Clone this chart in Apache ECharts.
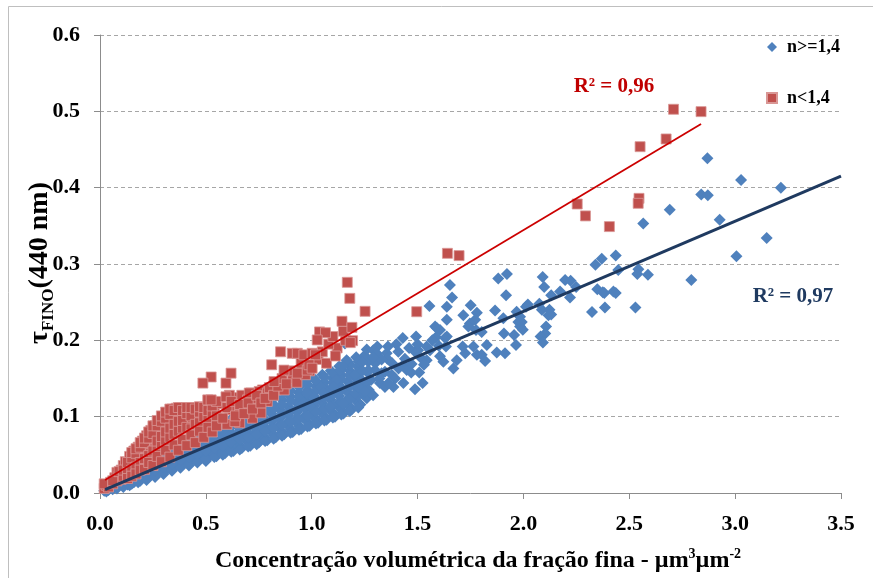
<!DOCTYPE html>
<html>
<head>
<meta charset="utf-8">
<script src="https://cdn.jsdelivr.net/npm/echarts@6/dist/echarts.min.js"></script>
<style>
html,body{margin:0;padding:0;background:#fff;}
#c{width:873px;height:578px;}
</style>
</head>
<body>
<div id="c"></div>
<script>
// ---- data ----
const seriesNames = ['n>=1,4', 'n<1,4'];
const xTicks = [0, 0.5, 1.0, 1.5, 2.0, 2.5, 3.0, 3.5];
const yTicks = [0, 0.1, 0.2, 0.3, 0.4, 0.5, 0.6];

// n>=1,4 (blue diamonds) : [x, y]
const bluePoints = [
[0.02,0.003],[0.03,0.006],[0.04,0.004],[0.05,0.008],[0.03,0.002],[0.06,0.005],
[0.08,0.006],[0.09,0.011],[0.07,0.009],
[0.11,0.008],[0.12,0.014],[0.13,0.011],[0.12,0.019],
[0.15,0.012],[0.16,0.018],[0.17,0.024],[0.16,0.014],
[0.19,0.016],[0.20,0.022],[0.21,0.028],[0.22,0.019],
[0.23,0.021],[0.24,0.027],[0.25,0.034],[0.26,0.024],
[0.27,0.026],[0.28,0.032],[0.29,0.040],[0.30,0.028],[0.30,0.046],
[0.31,0.030],[0.32,0.036],[0.33,0.044],[0.34,0.032],[0.33,0.051],
[0.35,0.034],[0.36,0.040],[0.37,0.048],[0.38,0.037],[0.37,0.056],[0.38,0.062],
[0.39,0.038],[0.40,0.045],[0.41,0.053],[0.42,0.041],[0.41,0.060],[0.42,0.067],
[0.43,0.042],[0.44,0.049],[0.45,0.057],[0.46,0.045],[0.45,0.064],[0.46,0.071],
[0.47,0.047],[0.48,0.053],[0.49,0.061],[0.50,0.042],[0.49,0.069],[0.50,0.076],
[0.51,0.046],[0.52,0.057],[0.53,0.065],[0.54,0.050],[0.53,0.073],[0.54,0.081],
[0.55,0.048],[0.56,0.060],[0.57,0.069],[0.58,0.054],[0.57,0.078],[0.58,0.086],
[0.59,0.052],[0.60,0.064],[0.61,0.073],[0.62,0.058],[0.61,0.082],[0.62,0.091],
[0.63,0.055],[0.64,0.068],[0.65,0.077],[0.66,0.062],[0.65,0.087],[0.66,0.096],
[0.67,0.059],[0.68,0.072],[0.69,0.081],[0.70,0.066],[0.69,0.091],[0.70,0.100],
[0.71,0.062],[0.72,0.075],[0.73,0.085],[0.74,0.070],[0.73,0.095],[0.74,0.105],
[0.75,0.066],[0.76,0.079],[0.77,0.089],[0.78,0.072],[0.77,0.099],[0.78,0.110],
[0.79,0.069],[0.80,0.083],[0.81,0.094],[0.82,0.076],[0.81,0.104],[0.82,0.116],
[0.83,0.073],[0.84,0.087],[0.85,0.098],[0.86,0.080],[0.85,0.109],[0.86,0.122],[0.85,0.130],
[0.87,0.077],[0.88,0.091],[0.89,0.102],[0.90,0.084],[0.89,0.113],[0.90,0.126],[0.89,0.137],
[0.91,0.080],[0.92,0.095],[0.93,0.106],[0.94,0.088],[0.93,0.118],[0.94,0.131],[0.93,0.142],
[0.95,0.084],[0.96,0.099],[0.97,0.110],[0.98,0.093],[0.97,0.122],[0.98,0.135],[0.97,0.146],
[0.99,0.088],[1.00,0.103],[1.01,0.114],[1.02,0.097],[1.01,0.127],[1.02,0.140],[1.01,0.150],
[1.03,0.092],[1.04,0.107],[1.05,0.118],[1.06,0.101],[1.05,0.132],[1.06,0.145],[1.05,0.155],
[1.07,0.096],[1.08,0.111],[1.09,0.122],[1.10,0.105],[1.09,0.136],[1.10,0.150],[1.09,0.160],
[1.11,0.100],[1.12,0.116],[1.13,0.127],[1.14,0.109],[1.13,0.141],[1.14,0.155],[1.13,0.166],
[1.15,0.104],[1.16,0.120],[1.17,0.132],[1.18,0.113],[1.17,0.146],[1.18,0.160],[1.17,0.172],
[1.19,0.110],[1.20,0.125],[1.21,0.138],[1.22,0.118],[1.21,0.150],[1.22,0.165],[1.21,0.178],
[1.23,0.116],[1.24,0.130],[1.25,0.142],[1.26,0.124],[1.25,0.180],[1.26,0.188],
[1.27,0.135],[1.28,0.148],[1.29,0.128],[1.30,0.170],[1.31,0.192],
// fill of the dense band (offset columns)
[0.14,0.010],[0.14,0.017],[0.14,0.022],[0.18,0.014],[0.18,0.020],[0.18,0.027],
[0.22,0.017],[0.22,0.025],[0.22,0.031],[0.26,0.021],[0.26,0.029],[0.26,0.037],[0.26,0.043],
[0.30,0.025],[0.30,0.034],[0.30,0.041],[0.34,0.029],[0.34,0.039],[0.34,0.046],[0.34,0.055],
[0.38,0.033],[0.38,0.043],[0.38,0.051],[0.42,0.036],[0.42,0.047],[0.42,0.056],[0.42,0.064],
[0.46,0.040],[0.46,0.051],[0.46,0.060],[0.46,0.069],[0.46,0.077],
[0.50,0.045],[0.50,0.055],[0.50,0.064],[0.50,0.073],[0.50,0.082],
[0.54,0.047],[0.54,0.059],[0.54,0.069],[0.54,0.078],[0.54,0.087],
[0.58,0.050],[0.58,0.062],[0.58,0.073],[0.58,0.082],[0.58,0.092],
[0.62,0.054],[0.62,0.066],[0.62,0.077],[0.62,0.087],[0.62,0.097],
[0.66,0.057],[0.66,0.070],[0.66,0.081],[0.66,0.092],[0.66,0.102],
[0.70,0.061],[0.70,0.073],[0.70,0.086],[0.70,0.096],[0.70,0.107],
[0.74,0.064],[0.74,0.077],[0.74,0.090],[0.74,0.101],[0.74,0.112],
[0.78,0.068],[0.78,0.081],[0.78,0.094],[0.78,0.106],[0.78,0.118],
[0.82,0.071],[0.82,0.085],[0.82,0.098],[0.82,0.111],[0.82,0.124],
[0.86,0.075],[0.86,0.089],[0.86,0.103],[0.86,0.116],[0.86,0.129],
[0.90,0.079],[0.90,0.093],[0.90,0.108],[0.90,0.121],[0.90,0.134],
[0.94,0.083],[0.94,0.097],[0.94,0.112],[0.94,0.126],[0.94,0.139],
[0.98,0.087],[0.98,0.101],[0.98,0.117],[0.98,0.130],[0.98,0.142],
[1.02,0.091],[1.02,0.106],[1.02,0.121],[1.02,0.134],[1.02,0.147],
[1.06,0.095],[1.06,0.110],[1.06,0.125],[1.06,0.139],[1.06,0.152],
[1.10,0.099],[1.10,0.114],[1.10,0.130],[1.10,0.144],[1.10,0.157],
[1.14,0.103],[1.14,0.119],[1.14,0.135],[1.14,0.149],[1.14,0.162],
[1.18,0.107],[1.18,0.123],[1.18,0.140],[1.18,0.154],[1.18,0.168],
[1.22,0.112],[1.22,0.128],[1.22,0.145],[1.22,0.158],[1.22,0.172],
// x > 1.1
[1.157,0.196],[1.165,0.174],[1.134,0.161],[1.146,0.166],[1.267,0.172],[1.260,0.159],
[1.236,0.148],[1.221,0.139],[1.252,0.133],[1.197,0.128],[1.180,0.122],[1.118,0.148],
[1.102,0.139],[1.040,0.139],[1.055,0.131],[1.008,0.126],[0.976,0.131],[1.087,0.113],
[1.149,0.1175],[0.960,0.1175],[0.992,0.113],[1.322,0.144],[1.346,0.139],[1.433,0.144],
[1.236,0.171],[1.205,0.155],[1.291,0.187],[1.307,0.183],[1.299,0.161],[1.330,0.157],
[1.346,0.159],[1.378,0.155],[1.394,0.150],[1.386,0.139],[1.362,0.144],[1.433,0.168],
[1.449,0.161],[1.472,0.169],[1.354,0.183],[1.357,0.176],[1.409,0.185],[1.488,0.185],
[1.503,0.187],[1.543,0.174],[1.508,0.158],[1.488,0.136],[1.524,0.144],[1.430,0.203],
[1.493,0.205],[1.543,0.192],[1.559,0.187],[1.587,0.204],[1.630,0.203],[1.606,0.179],
[1.622,0.172],[1.556,0.245],[1.583,0.218],[1.591,0.216],[1.606,0.2135],
[1.33,0.175],[1.38,0.170],[1.41,0.163],[1.44,0.176],[1.47,0.158],[1.52,0.176],
[1.53,0.168],[1.50,0.195],[1.46,0.190],[1.40,0.195],[1.36,0.192],[1.57,0.200],
[1.60,0.193],[1.27,0.160],[1.32,0.150],[1.29,0.178],[1.24,0.160],
[1.653,0.2725],[1.663,0.256],[1.638,0.244],[1.751,0.246],[1.716,0.233],[1.638,0.227],
[1.780,0.236],[1.772,0.227],[1.747,0.222],[1.740,0.218],[1.776,0.2135],[1.866,0.239],
[1.905,0.229],[1.908,0.209],[1.803,0.211],[1.976,0.224],[1.984,0.218],[1.956,0.207],
[1.965,0.194],[2.021,0.247],[1.827,0.194],[1.874,0.184],[1.913,0.183],[1.819,0.173],
[1.764,0.192],[1.780,0.181],[1.725,0.183],[1.713,0.192],[1.638,0.205],[1.634,0.192],
[1.685,0.174],[1.669,0.163],[1.968,0.2375],[1.984,0.231],[1.803,0.181],
[1.881,0.281],[1.922,0.287],[1.918,0.259],
[2.012,0.244],[2.075,0.248],[2.087,0.240],[2.123,0.240],[2.131,0.234],[2.118,0.233],
[1.992,0.224],[1.997,0.214],[2.107,0.218],[2.103,0.209],[2.081,0.205],[2.092,0.197],
[2.091,0.283],[2.098,0.270],[2.197,0.279],[2.223,0.278],[2.249,0.270],[2.173,0.264],
[2.220,0.256],[2.131,0.259],
[2.349,0.267],[2.375,0.263],[2.382,0.262],[2.425,0.264],[2.436,0.262],[2.324,0.237],
[2.385,0.243],[2.529,0.243],[2.436,0.311],[2.370,0.307],[2.340,0.299],[2.448,0.292],
[2.543,0.293],[2.538,0.287],[2.588,0.286],[2.566,0.353],[2.691,0.371],[2.793,0.279],
[2.840,0.391],[2.871,0.390],[2.869,0.4385],[2.927,0.358],[3.006,0.310],[3.028,0.410],
[3.149,0.334],[3.216,0.400]
];

// n<1,4 (red squares) : [x, y]
const redPoints = [
[0.02,0.006],[0.03,0.010],[0.04,0.008],[0.05,0.014],[0.02,0.012],
[0.06,0.012],[0.07,0.020],[0.08,0.016],[0.08,0.027],[0.09,0.022],[0.10,0.030],[0.10,0.018],[0.11,0.036],
[0.12,0.024],[0.12,0.041],[0.13,0.032],[0.14,0.028],[0.14,0.048],[0.15,0.038],[0.16,0.055],[0.16,0.031],
[0.17,0.044],[0.18,0.036],[0.18,0.060],[0.19,0.051],[0.20,0.040],[0.20,0.068],[0.21,0.057],[0.22,0.046],[0.22,0.075],
[0.23,0.063],[0.24,0.052],[0.24,0.082],[0.25,0.070],[0.26,0.058],[0.26,0.088],[0.27,0.077],[0.28,0.064],[0.28,0.094],
[0.29,0.083],[0.30,0.070],[0.30,0.100],[0.31,0.089],[0.32,0.076],[0.32,0.104],[0.33,0.094],[0.34,0.082],[0.34,0.110],
[0.35,0.099],[0.36,0.088],[0.36,0.111],[0.37,0.104],[0.38,0.094],[0.38,0.112],[0.39,0.101],[0.40,0.089],[0.40,0.110],[0.41,0.097],
[0.42,0.106],[0.43,0.093],[0.44,0.110],[0.45,0.101],[0.46,0.088],[0.46,0.112],[0.47,0.098],[0.48,0.108],[0.48,0.086],
[0.49,0.096],[0.50,0.104],[0.51,0.090],[0.52,0.113],[0.53,0.098],[0.54,0.108],[0.55,0.094],[0.56,0.117],
// fill of the dense red band
[0.06,0.016],[0.09,0.028],[0.11,0.022],[0.11,0.030],[0.13,0.040],[0.13,0.026],
[0.15,0.030],[0.15,0.046],[0.15,0.053],[0.17,0.034],[0.17,0.052],[0.17,0.058],
[0.19,0.040],[0.19,0.060],[0.19,0.066],[0.21,0.045],[0.21,0.066],[0.21,0.072],
[0.23,0.049],[0.23,0.072],[0.23,0.080],[0.25,0.055],[0.25,0.078],[0.25,0.088],
[0.27,0.060],[0.27,0.068],[0.27,0.088],[0.27,0.095],[0.29,0.064],[0.29,0.074],[0.29,0.094],[0.29,0.101],
[0.31,0.069],[0.31,0.080],[0.31,0.098],[0.31,0.106],[0.33,0.073],[0.33,0.085],[0.33,0.103],[0.33,0.110],
[0.35,0.077],[0.35,0.090],[0.35,0.108],[0.37,0.081],[0.37,0.094],[0.37,0.112],
[0.39,0.085],[0.39,0.095],[0.39,0.108],[0.41,0.086],[0.41,0.104],[0.41,0.112],
[0.43,0.084],[0.43,0.101],[0.43,0.112],[0.45,0.090],[0.45,0.110],
[0.47,0.092],[0.47,0.106],[0.47,0.113],[0.49,0.100],[0.49,0.112],[0.51,0.098],[0.51,0.108],
[0.53,0.104],[0.53,0.114],[0.55,0.101],[0.55,0.120],
// lower edge of the red band (overlapping the blue band)
[0.13,0.019],[0.15,0.022],[0.17,0.025],[0.19,0.030],[0.21,0.031],[0.23,0.040],[0.25,0.036],
[0.27,0.048],[0.29,0.041],[0.31,0.056],[0.33,0.047],[0.35,0.063],[0.37,0.056],[0.39,0.070],
[0.41,0.062],[0.43,0.076],[0.45,0.066],[0.47,0.081],[0.49,0.073],[0.51,0.086],[0.53,0.080],
[0.55,0.088],[0.60,0.090],[0.66,0.092],[0.72,0.098],[0.76,0.105],
[0.63,0.125],[0.67,0.128],[0.71,0.112],[0.75,0.125],[0.79,0.120],[0.83,0.135],[0.87,0.135],
[0.91,0.150],[0.93,0.145],[0.99,0.160],[1.03,0.175],[1.07,0.170],[1.12,0.190],[1.16,0.200],
// sparser red points
[0.509,0.122],[0.525,0.122],[0.525,0.152],[0.486,0.144],[0.595,0.144],[0.619,0.157],[0.611,0.128],[0.595,0.126],
[0.642,0.109],[0.637,0.0935],[0.689,0.113],[0.736,0.122],[0.767,0.135],[0.713,0.131],[0.752,0.133],[0.791,0.131],
[0.697,0.122],[0.728,0.124],[0.658,0.109],[0.611,0.109],[0.705,0.131],
[0.58,0.098],[0.60,0.112],[0.62,0.120],[0.64,0.101],[0.66,0.116],[0.68,0.104],[0.70,0.118],[0.72,0.110],
[0.74,0.128],[0.76,0.118],[0.78,0.124],[0.80,0.138],[0.82,0.128],[0.84,0.140],[0.86,0.150],[0.88,0.143],
[0.90,0.160],[0.95,0.170],[0.97,0.155],[1.05,0.185],[1.08,0.195],[1.10,0.205],[1.15,0.212],
[0.822,0.146],[0.811,0.168],[0.869,0.161],[0.932,0.157],[0.979,0.161],[0.853,0.185],[0.908,0.183],[0.932,0.183],
[0.963,0.181],[1.002,0.183],[1.018,0.181],[0.987,0.168],[1.002,0.1635],[1.112,0.1795],[1.037,0.211],[1.065,0.210],
[1.026,0.2005],[1.143,0.225],[1.190,0.217],[1.193,0.1995],[1.182,0.197],[1.168,0.276],[1.180,0.255],[1.252,0.238],
[1.496,0.2375],[1.641,0.314],[1.696,0.311],[2.254,0.3786],[2.293,0.363],[2.406,0.349],[2.546,0.386],[2.542,0.3795],
[2.551,0.4537],[2.674,0.4638],[2.709,0.5027],[2.839,0.4996]
];

// linear trend lines: [slope, intercept, xFrom, xTo]
const blueTrend = [0.1181, 0.0017, 0.024, 3.5];
const redTrend  = [0.1657, 0.0131, 0.024, 2.839];
const blueR2 = 'R² = 0,97';
const redR2  = 'R² = 0,96';

function trendLine(t){
  return [[t[2], t[1] + t[0]*t[2]], [t[3], t[1] + t[0]*t[3]]];
}

const SERIF = '"Liberation Serif","Times New Roman",serif';
const chart = echarts.init(document.getElementById('c'), null, {renderer:'canvas'});
chart.setOption({
  animation:false,
  backgroundColor:'#ffffff',
  grid:{left:100, right:32, top:35, bottom:85},
  xAxis:{
    type:'value', min:xTicks[0], max:xTicks[xTicks.length-1], interval:0.5,
    axisLine:{show:true, onZero:false, lineStyle:{color:'#8C8C8C', width:1}},
    axisTick:{show:true, length:6, lineStyle:{color:'#8C8C8C'}},
    axisLabel:{margin:20, color:'#000', fontFamily:SERIF, fontWeight:'bold', fontSize:22,
      formatter:v=>v.toFixed(1)},
    splitLine:{show:false}
  },
  yAxis:{
    type:'value', min:yTicks[0], max:yTicks[yTicks.length-1], interval:0.1,
    axisLine:{show:true, lineStyle:{color:'#8C8C8C', width:1}},
    axisTick:{show:true, length:6, lineStyle:{color:'#8C8C8C'}},
    axisLabel:{margin:20, color:'#000', fontFamily:SERIF, fontWeight:'bold', fontSize:22,
      formatter:v=>v.toFixed(1)},
    splitLine:{show:true, lineStyle:{color:'#A6A6A6', type:[4,3], width:1}}
  },
  legend:{
    orient:'vertical', left:766, top:38, padding:0, itemGap:33, itemWidth:10, itemHeight:10,
    data:[{name:seriesNames[0], icon:'diamond'},{name:seriesNames[1], icon:'rect'}],
    textStyle:{fontFamily:SERIF, fontWeight:'bold', fontSize:18, color:'#000', lineHeight:18, padding:[0,0,0,5]}
  },
  series:[
    {name:seriesNames[0], type:'scatter', data:bluePoints, symbol:'diamond', symbolSize:12, z:2,
      itemStyle:{color:'#4F81BD', opacity:1}},
    {name:seriesNames[1], type:'scatter', data:redPoints, symbol:'rect', symbolSize:10, z:3,
      itemStyle:{color:'#C0504D', borderColor:'#D99795', borderWidth:0.8, opacity:1}},
    {name:'trend1', type:'line', data:trendLine(blueTrend), symbol:'none', z:5,
      lineStyle:{color:'#1F3A60', width:3}},
    {name:'trend2', type:'line', data:trendLine(redTrend), symbol:'none', z:6,
      lineStyle:{color:'#CC0000', width:1.8}}
  ],
  graphic:[
    {type:'rect', silent:true, shape:{x:8.5, y:6.5, width:900, height:600}, style:{fill:'none', stroke:'#BFBFBF', lineWidth:1}, z:-1},
    {type:'text', x:614, y:87, style:{text:redR2, fill:'#C00000', font:'bold 21px '+SERIF, align:'center', verticalAlign:'middle'}},
    {type:'text', x:793, y:297, style:{text:blueR2, fill:'#1F3A60', font:'bold 21px '+SERIF, align:'center', verticalAlign:'middle'}},
    {type:'text', x:478, y:560, style:{
      text:'{a|Concentração volumétrica da fração fina - µm}{s|3}{a|µm}{s|-2}',
      align:'center', verticalAlign:'middle',
      rich:{a:{fontFamily:SERIF, fontWeight:'bold', fontSize:24, fill:'#000', lineHeight:26, verticalAlign:'bottom'},
            s:{fontFamily:SERIF, fontWeight:'bold', fontSize:14, fill:'#000', lineHeight:26, verticalAlign:'top'}}}},
    {type:'text', x:40, y:263, rotation:Math.PI/2, style:{
      text:'{t|τ}{s|FINO}{t|(440 nm)}',
      align:'center', verticalAlign:'middle',
      rich:{t:{fontFamily:SERIF, fontWeight:'bold', fontSize:28, fill:'#000', lineHeight:34, verticalAlign:'middle'},
            s:{fontFamily:SERIF, fontWeight:'bold', fontSize:17, fill:'#000', lineHeight:34, verticalAlign:'bottom'}}}}
  ]
});
</script>
</body>
</html>
